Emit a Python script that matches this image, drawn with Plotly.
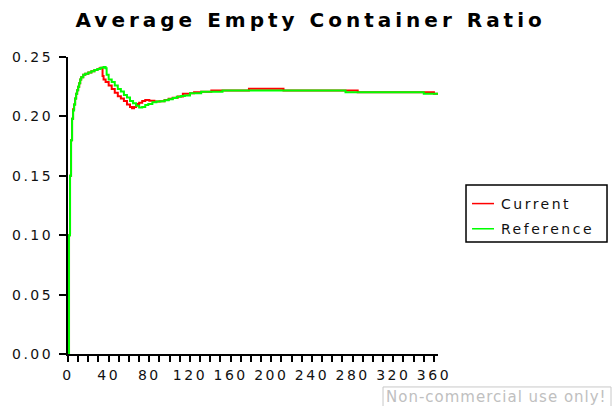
import plotly.graph_objects as go

# Simulation time (days) and average empty container ratio for each run
time_current = [0, 1, 2, 3, 4, 5, 6, 7, 8, 9, 10, 11, 12, 13, 15, 17, 20, 23, 26, 29, 31, 33,
                34, 35, 37, 40, 43, 46, 49, 52, 55, 58, 61, 63, 65, 67, 70, 73, 76, 80, 85, 90,
                95, 99, 103, 108, 113, 120, 124, 131, 141, 178, 212, 285, 360, 364]
ratio_current = [0.0, 0.10, 0.15, 0.18, 0.198, 0.206, 0.210, 0.215, 0.219, 0.222, 0.225, 0.228,
                 0.231, 0.233, 0.235, 0.236, 0.237, 0.238, 0.239, 0.240, 0.2405, 0.241,
                 0.234, 0.231, 0.229, 0.226, 0.223, 0.220, 0.217, 0.215, 0.213, 0.210, 0.208,
                 0.2068, 0.208, 0.2105, 0.2115, 0.213, 0.2138, 0.2132, 0.2125, 0.2128,
                 0.2138, 0.2148, 0.2158, 0.2168, 0.219, 0.2194, 0.2203, 0.2208, 0.2219,
                 0.2233, 0.2219, 0.2203, 0.2191, 0.2191]

time_reference = [0, 1, 2, 3, 4, 5, 6, 7, 8, 9, 10, 11, 12, 13, 15, 17, 20, 23, 26, 29, 32, 35,
                  37, 38, 40, 43, 46, 49, 52, 55, 58, 61, 64, 67, 70, 73, 76, 79, 83, 87, 91, 95,
                  99, 103, 107, 111, 115, 120, 131, 152, 273, 350, 364]
ratio_reference = [0.0, 0.10, 0.15, 0.18, 0.198, 0.205, 0.210, 0.215, 0.219, 0.222, 0.225, 0.228,
                   0.231, 0.233, 0.235, 0.236, 0.237, 0.238, 0.239, 0.240, 0.241, 0.2415,
                   0.2405, 0.235, 0.231, 0.229, 0.226, 0.223, 0.221, 0.218, 0.216, 0.213, 0.211,
                   0.209, 0.2075, 0.208, 0.2095, 0.2105, 0.212, 0.2125, 0.2128, 0.2135, 0.2145,
                   0.2155, 0.2165, 0.2172, 0.2175, 0.2194, 0.2208, 0.2219, 0.2203, 0.2191, 0.2191]

series_names = ["Current", "Reference"]
FONT = "DejaVu Sans, Verdana, sans-serif"

fig = go.Figure()
fig.add_trace(go.Scatter(x=time_current, y=ratio_current, name=series_names[0],
                         legendgroup="cur", mode="lines",
                         line=dict(color="#ff0000", width=2, shape="hv")))
fig.add_trace(go.Scatter(x=time_reference, y=ratio_reference, name=series_names[1],
                         legendgroup="ref", mode="lines",
                         line=dict(color="#00ff00", width=2, shape="hv")))

axis_common = dict(showgrid=False, zeroline=False, tickcolor="black", tickwidth=2)

fig.update_layout(
    width=614, height=406,
    margin=dict(l=68, r=176, t=57, b=52),
    paper_bgcolor="white", plot_bgcolor="white",
    font=dict(family=FONT, size=14, color="#111111"),
    title=dict(text="Average Empty Container Ratio", x=0.506, xanchor="center",
               y=0.95, yanchor="middle",
               font=dict(family=FONT, size=20, color="black", weight="bold")),
    xaxis=dict(range=[0, 364], tick0=0, dtick=40, ticks="outside", ticklen=6,
               showline=True, linecolor="black", linewidth=2, ticklabelstandoff=1,
               minor=dict(dtick=10, tick0=0, ticks="outside", ticklen=6,
                          tickcolor="black", tickwidth=2),
               **axis_common),
    xaxis2=dict(overlaying="x", matches="x", anchor="y", side="bottom",
                tick0=0, dtick=10, ticks="inside", ticklen=6,
                showticklabels=False, showline=False, **axis_common),
    yaxis=dict(range=[0, 0.25], tick0=0, dtick=0.05, tickformat=".2f",
               ticks="outside", ticklen=7, showline=True, linecolor="black", linewidth=2,
               ticklabelstandoff=3, **axis_common),
    yaxis2=dict(overlaying="y", matches="y", anchor="x", side="left",
                tick0=0, dtick=0.05, ticks="inside", ticklen=7,
                showticklabels=False, showline=False, **axis_common),
    legend=dict(x=1.0622, y=0.559, xanchor="left", yanchor="top",
                bgcolor="rgba(0,0,0,0)", borderwidth=0, tracegroupgap=4,
                traceorder="grouped",
                font=dict(family=FONT, size=14, color="#111111")),
    showlegend=True,
)

# Legend frame and the licence stamp in the lower right corner
fig.add_shape(type="rect", xref="paper", yref="paper", x0=1.0757, x1=1.4568,
              y0=0.377, y1=0.569, line=dict(color="black", width=1.5))
fig.add_shape(type="rect", xref="paper", yref="paper", x0=0.8514, x1=1.4676,
              y0=-0.185, y1=-0.111, line=dict(color="#c8c8c8", width=1))
fig.add_annotation(text="Non-commercial use only!", xref="paper", yref="paper",
                   x=1.1568, y=-0.146, xanchor="center", yanchor="middle", showarrow=False,
                   font=dict(family=FONT, size=15, color="#c0c0c0"))

# Letter-spaced text and short, thin legend swatches
post_js = """
document.querySelectorAll('.gtitle').forEach(function(t){t.style.letterSpacing='4px';});
document.querySelectorAll('.xtick text, .ytick text, .legendtext').forEach(function(t){t.style.letterSpacing='2.5px';});
document.querySelectorAll('.annotation-text').forEach(function(t){t.style.letterSpacing='1px';});
document.querySelectorAll('.legend .scrollbox, .legend').forEach(function(g){g.removeAttribute('clip-path');});
document.querySelectorAll('.legendlines path').forEach(function(p){
  p.setAttribute('d', 'M11,0h22'); p.style.strokeWidth='1.5px';
});
"""

fig.write_html("out.html", post_script=post_js)
